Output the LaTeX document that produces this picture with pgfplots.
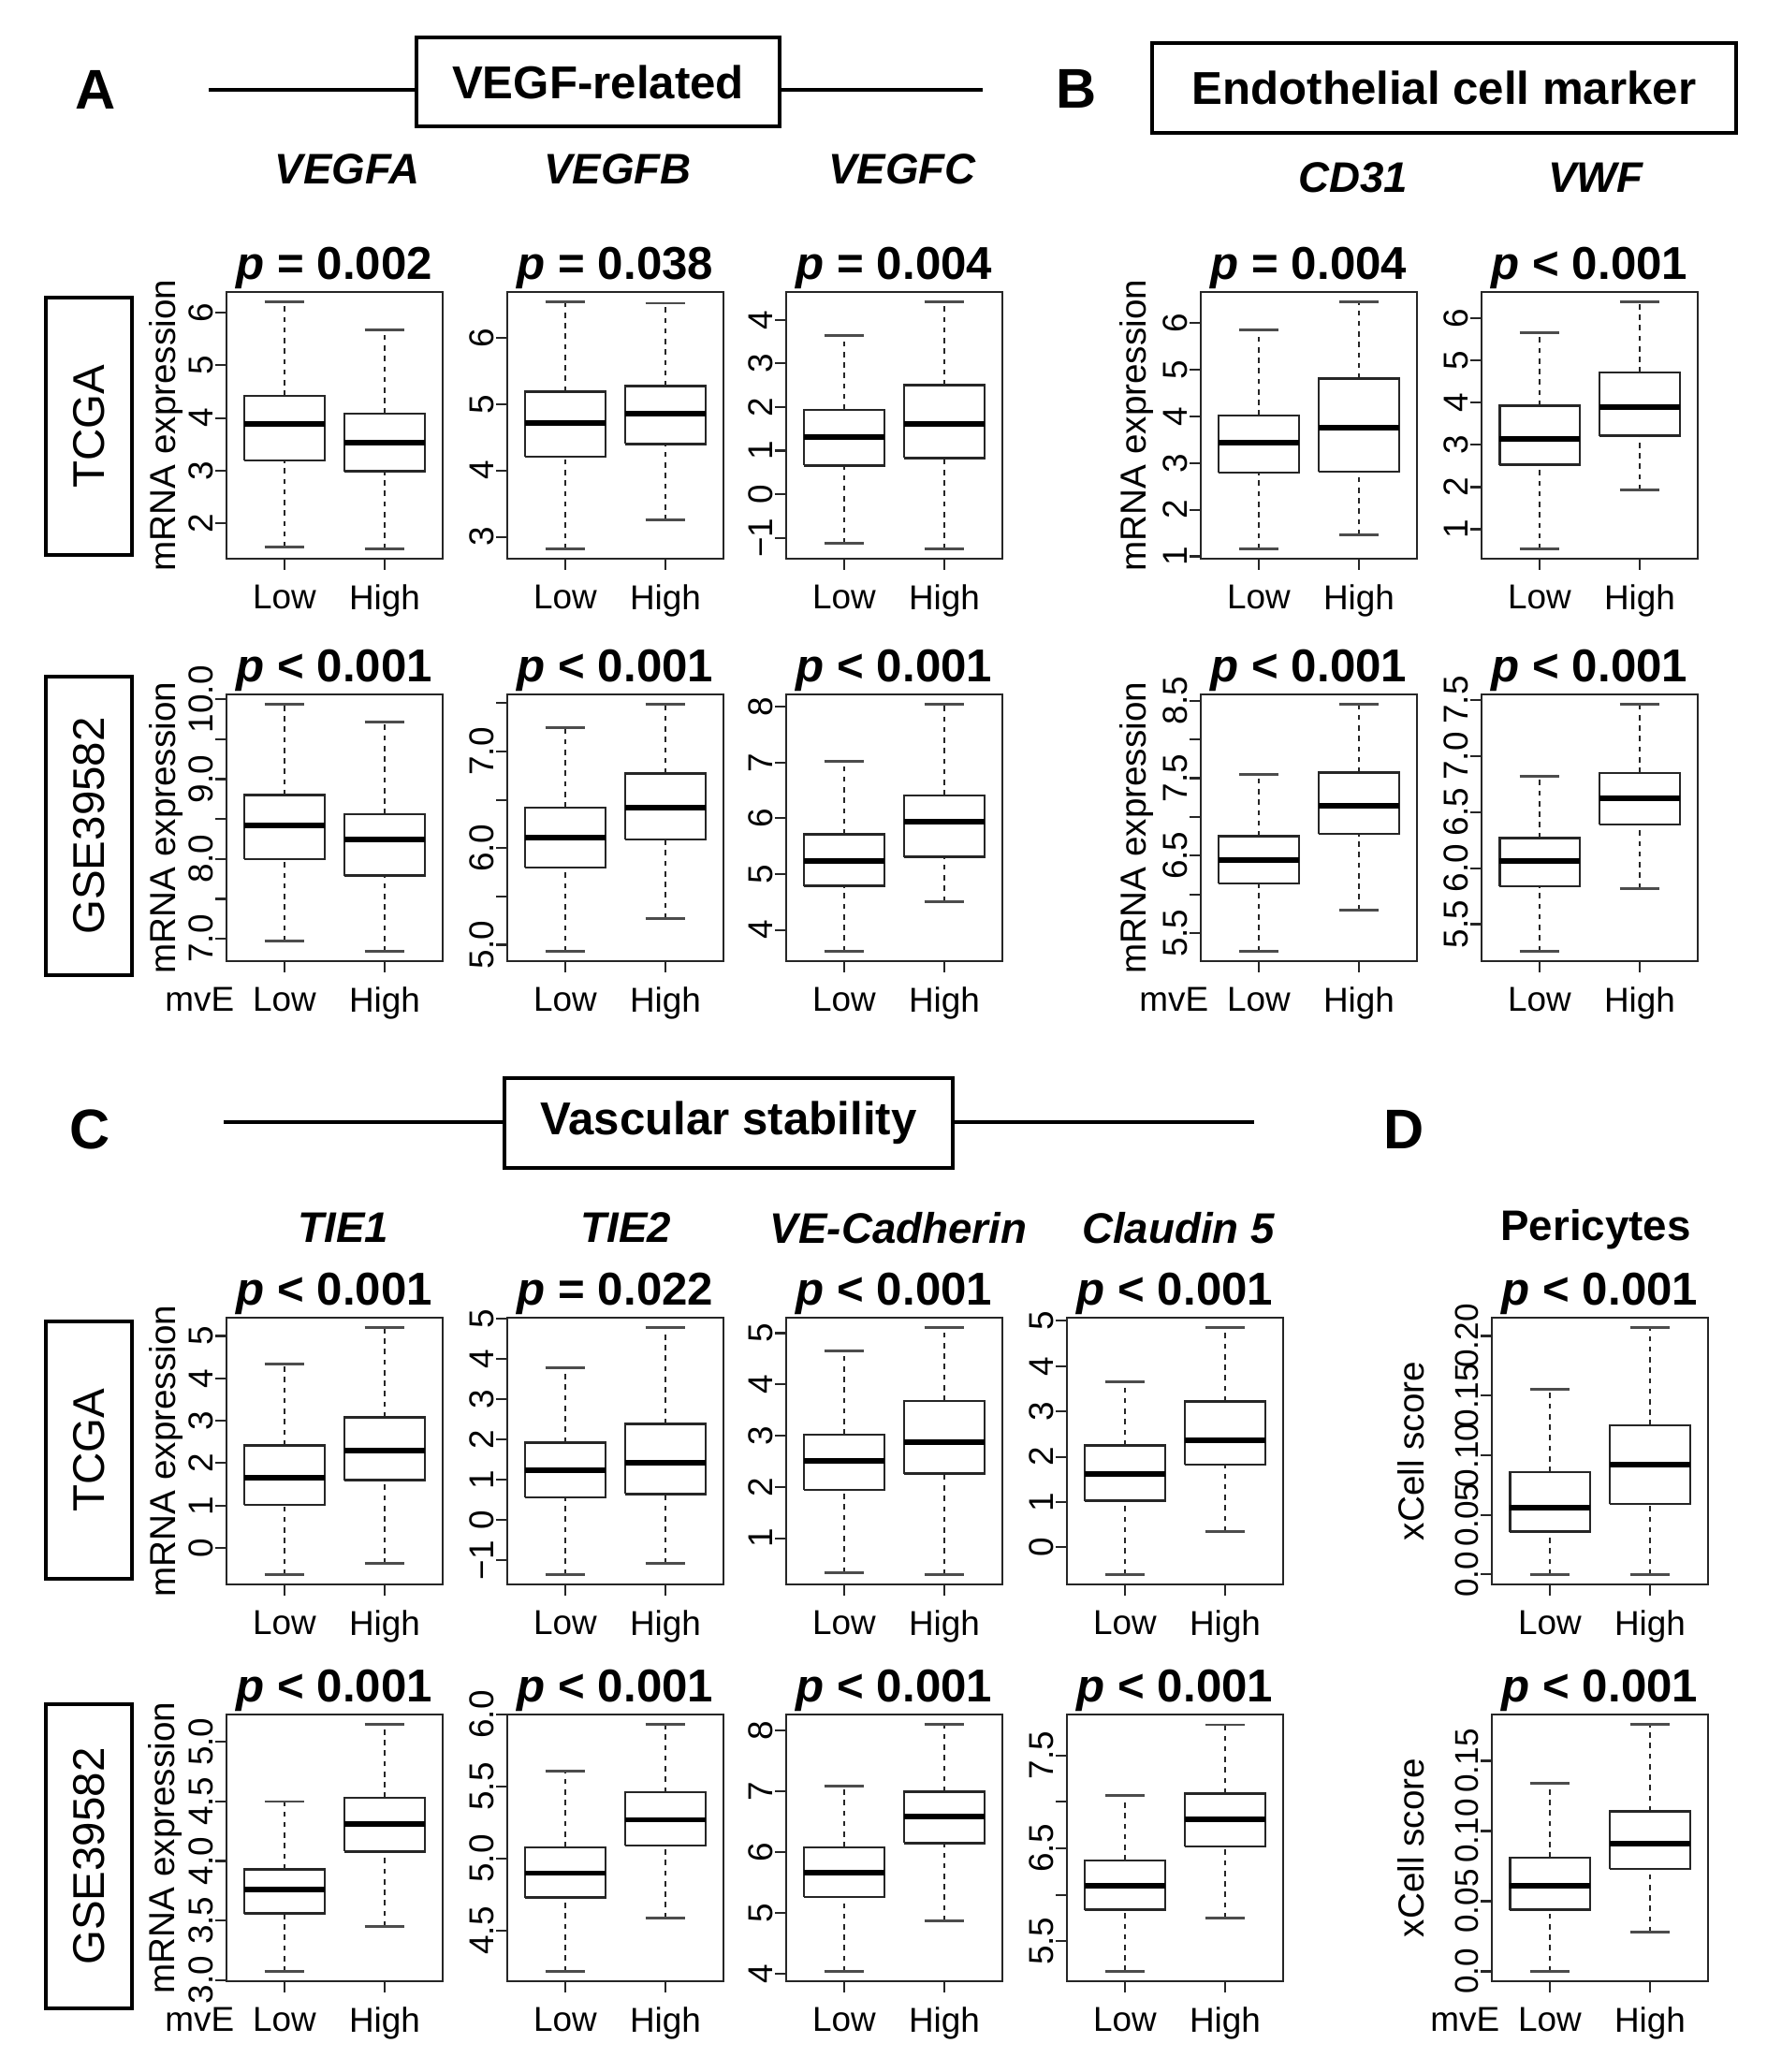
\documentclass[border=0pt]{standalone}
\usepackage{fontspec}
\setmainfont{Liberation Sans}
\usepackage{pgfplots}
\pgfplotsset{compat=1.18}

\newcommand\fs[1]{\fontsize{#1}{#1}\selectfont}
\pgfplotsset{
  bxs/.style={black!85, line width=0.7pt, mark=none, forget plot},
  mds/.style={black, line width=1.7pt, mark=none, forget plot},
  whs/.style={black!85, line width=0.5pt, dash pattern=on 1.6pt off 1.6pt, mark=none, forget plot},
  cps/.style={black!70, line width=0.8pt, mark=none, forget plot},
  ylx/.style={every axis y label/.style={at={(rel axis cs:0,0.5)}, xshift=#1, rotate=90, anchor=center, font=\fs{11}}},
  panel/.style={
    width=2.31cm, height=2.85cm, scale only axis, anchor=north west,
    xmin=0.42, xmax=2.58, xtick={1,2}, xticklabels={Low,High},
    tick pos=left, tick align=outside, major tick length=0.12cm,
    axis line style={black!85, line width=0.6pt},
    every tick/.style={black!85, line width=0.6pt},
    ticklabel style={font=\fs{10.5}},
    yticklabel style={rotate=90, anchor=south, inner sep=0.5pt},
    xticklabel style={inner sep=1pt, yshift=-0.12cm},
    every axis title/.style={at={(0.5,1)}, anchor=base, yshift=0.14cm, font=\bfseries\fs{14}},
    ylx=-0.65cm,
    clip=false,
  },
  mve/.style={xticklabels={\llap{mvE\hspace{0.2cm}}Low,High}},
}
% args: lower whisker, lower quartile, median, upper quartile, upper whisker
\newcommand\bL[5]{%
\addplot[whs] coordinates {(1,#1) (1,#2)};
\addplot[whs] coordinates {(1,#4) (1,#5)};
\addplot[cps] coordinates {(0.8,#1) (1.2,#1)};
\addplot[cps] coordinates {(0.8,#5) (1.2,#5)};
\addplot[bxs] coordinates {(0.6,#2) (1.4,#2) (1.4,#4) (0.6,#4) (0.6,#2)};
\addplot[mds] coordinates {(0.6,#3) (1.4,#3)};}
\newcommand\bH[5]{%
\addplot[whs] coordinates {(2,#1) (2,#2)};
\addplot[whs] coordinates {(2,#4) (2,#5)};
\addplot[cps] coordinates {(1.8,#1) (2.2,#1)};
\addplot[cps] coordinates {(1.8,#5) (2.2,#5)};
\addplot[bxs] coordinates {(1.6,#2) (2.4,#2) (2.4,#4) (1.6,#4) (1.6,#2)};
\addplot[mds] coordinates {(1.6,#3) (2.4,#3)};}

\begin{document}
\begin{tikzpicture}
\useasboundingbox (0,0) rectangle (18.88,-22.14);

% ---------- headers ----------
\node[font=\bfseries\fs{17}] at (1.02,-0.96) {A};
\draw[line width=0.9pt] (2.23,-0.96) -- (4.45,-0.96) (8.33,-0.96) -- (10.50,-0.96);
\draw[line width=0.9pt] (4.45,-0.40) rectangle (8.33,-1.35);
\node[font=\bfseries\fs{14}] at (6.39,-0.875) {VEGF-related};
\node[font=\bfseries\fs{17}] at (11.50,-0.95) {B};
\draw[line width=0.9pt] (12.31,-0.46) rectangle (18.55,-1.42);
\node[font=\bfseries\fs{14}] at (15.43,-0.94) {Endothelial cell marker};
\node[font=\bfseries\itshape\fs{13}] at (3.71,-1.81) {VEGFA};
\node[font=\bfseries\itshape\fs{13}] at (6.60,-1.81) {VEGFB};
\node[font=\bfseries\itshape\fs{13}] at (9.64,-1.81) {VEGFC};
\node[font=\bfseries\itshape\fs{13}] at (14.46,-1.90) {CD31};
\node[font=\bfseries\itshape\fs{13}] at (17.05,-1.90) {VWF};

\node[font=\bfseries\fs{17}] at (0.96,-12.07) {C};
\draw[line width=0.9pt] (2.39,-11.99) -- (5.39,-11.99) (10.18,-11.99) -- (13.40,-11.99);
\draw[line width=0.9pt] (5.39,-11.52) rectangle (10.18,-12.48);
\node[font=\bfseries\fs{14}] at (7.785,-12.0) {Vascular stability};
\node[font=\bfseries\fs{17}] at (15.00,-12.07) {D};
\node[font=\bfseries\itshape\fs{13}] at (3.67,-13.12) {TIE1};
\node[font=\bfseries\itshape\fs{13}] at (6.69,-13.12) {TIE2};
\node[font=\bfseries\itshape\fs{13}] at (9.60,-13.12) {VE-Cadherin};
\node[font=\bfseries\itshape\fs{13}] at (12.59,-13.12) {Claudin 5};
\node[font=\bfseries\fs{13}] at (17.05,-13.14) {Pericytes};

% ---------- row labels ----------
\draw[line width=0.9pt] (0.49,-3.18) rectangle (1.41,-5.93);
\node[rotate=90, font=\fs{13.5}] at (0.95,-4.555) {TCGA};
\draw[line width=0.9pt] (0.49,-7.23) rectangle (1.41,-10.42);
\node[rotate=90, font=\fs{13.5}] at (0.95,-8.825) {GSE39582};
\draw[line width=0.9pt] (0.49,-14.12) rectangle (1.41,-16.87);
\node[rotate=90, font=\fs{13.5}] at (0.95,-15.495) {TCGA};
\draw[line width=0.9pt] (0.49,-18.21) rectangle (1.41,-21.46);
\node[rotate=90, font=\fs{13.5}] at (0.95,-19.835) {GSE39582};

% ================= Row 1 (TCGA, A/B) =================
\begin{axis}[panel, at={(2.42cm,-3.12cm)}, ymin=1.33, ymax=6.39, ytick={2,3,4,5,6}, yticklabels={2,3,4,5,6},
  title={\textit{p} = 0.002}, ylabel={mRNA expression}]
\bL{1.55}{3.19}{3.89}{4.42}{6.21}
\bH{1.52}{2.99}{3.53}{4.08}{5.67}
\end{axis}
\begin{axis}[panel, at={(5.42cm,-3.12cm)}, ymin=2.67, ymax=6.69, ytick={3,4,5,6}, yticklabels={3,4,5,6},
  title={\textit{p} = 0.038}]
\bL{2.82}{4.21}{4.71}{5.19}{6.54}
\bH{3.25}{4.40}{4.86}{5.27}{6.52}
\end{axis}
\begin{axis}[panel, at={(8.40cm,-3.12cm)}, ymin=-1.48, ymax=4.64, ytick={-1,0,1,2,3,4}, yticklabels={−1,0,1,2,3,4},
  title={\textit{p} = 0.004}]
\bL{-1.13}{0.66}{1.31}{1.94}{3.65}
\bH{-1.25}{0.83}{1.61}{2.50}{4.41}
\end{axis}
\begin{axis}[panel, at={(12.83cm,-3.12cm)}, ymin=0.95, ymax=6.67, ytick={1,2,3,4,5,6}, yticklabels={1,2,3,4,5,6},
  title={\textit{p} = 0.004}, ylabel={mRNA expression}, ylx=-0.69cm]
\bL{1.16}{2.80}{3.43}{4.02}{5.85}
\bH{1.46}{2.82}{3.76}{4.81}{6.46}
\end{axis}
\begin{axis}[panel, at={(15.83cm,-3.12cm)}, ymin=0.30, ymax=6.63, ytick={1,2,3,4,5,6}, yticklabels={1,2,3,4,5,6},
  title={\textit{p} < 0.001}]
\bL{0.53}{2.53}{3.14}{3.93}{5.66}
\bH{1.93}{3.22}{3.90}{4.72}{6.40}
\end{axis}

% ================= Row 2 (GSE, A/B) =================
\begin{axis}[panel, mve, at={(2.42cm,-7.42cm)}, ymin=6.72, ymax=10.06, ytick={7,7.5,8,8.5,9,9.5,10}, yticklabels={7.0,,8.0,,9.0,,10.0},
  title={\textit{p} < 0.001}, ylabel={mRNA expression}]
\bL{6.97}{8.00}{8.42}{8.80}{9.94}
\bH{6.84}{7.79}{8.24}{8.56}{9.71}
\end{axis}
\begin{axis}[panel, at={(5.42cm,-7.42cm)}, ymin=4.83, ymax=7.59, ytick={5,5.5,6,6.5,7,7.5}, yticklabels={5.0,,6.0,,7.0,},
  title={\textit{p} < 0.001}]
\bL{4.93}{5.80}{6.11}{6.42}{7.25}
\bH{5.27}{6.09}{6.42}{6.77}{7.49}
\end{axis}
\begin{axis}[panel, at={(8.40cm,-7.42cm)}, ymin=3.44, ymax=8.22, ytick={4,5,6,7,8}, yticklabels={4,5,6,7,8},
  title={\textit{p} < 0.001}]
\bL{3.62}{4.79}{5.24}{5.71}{7.02}
\bH{4.51}{5.31}{5.94}{6.41}{8.04}
\end{axis}
\begin{axis}[panel, mve, at={(12.83cm,-7.42cm)}, ymin=5.14, ymax=8.58, ytick={5.5,6,6.5,7,7.5,8,8.5}, yticklabels={5.5,,6.5,,7.5,,8.5},
  title={\textit{p} < 0.001}, ylabel={mRNA expression}, ylx=-0.69cm]
\bL{5.27}{6.14}{6.44}{6.75}{7.55}
\bH{5.80}{6.78}{7.14}{7.57}{8.45}
\end{axis}
\begin{axis}[panel, at={(15.83cm,-7.42cm)}, ymin=5.17, ymax=7.55, ytick={5.5,6,6.5,7,7.5}, yticklabels={5.5,6.0,6.5,7.0,7.5},
  title={\textit{p} < 0.001}]
\bL{5.26}{5.84}{6.06}{6.27}{6.82}
\bH{5.82}{6.39}{6.62}{6.85}{7.46}
\end{axis}

% ================= Row 3 (TCGA, C/D) =================
\begin{axis}[panel, at={(2.42cm,-14.08cm)}, ymin=-0.86, ymax=5.43, ytick={0,1,2,3,4,5}, yticklabels={0,1,2,3,4,5},
  title={\textit{p} < 0.001}, ylabel={mRNA expression}]
\bL{-0.63}{1.02}{1.65}{2.42}{4.33}
\bH{-0.37}{1.60}{2.30}{3.08}{5.20}
\end{axis}
\begin{axis}[panel, at={(5.42cm,-14.08cm)}, ymin=-1.60, ymax=5.03, ytick={-1,0,1,2,3,4,5}, yticklabels={−1,0,1,2,3,4,5},
  title={\textit{p} = 0.022}]
\bL{-1.35}{0.57}{1.24}{1.93}{3.78}
\bH{-1.08}{0.65}{1.42}{2.39}{4.78}
\end{axis}
\begin{axis}[panel, at={(8.40cm,-14.08cm)}, ymin=0.10, ymax=5.30, ytick={1,2,3,4,5}, yticklabels={1,2,3,4,5},
  title={\textit{p} < 0.001}]
\bL{0.33}{1.94}{2.50}{3.02}{4.66}
\bH{0.29}{2.26}{2.87}{3.68}{5.11}
\end{axis}
\begin{axis}[panel, at={(11.40cm,-14.08cm)}, ymin=-0.82, ymax=5.07, ytick={0,1,2,3,4,5}, yticklabels={0,1,2,3,4,5},
  title={\textit{p} < 0.001}]
\bL{-0.60}{1.03}{1.62}{2.25}{3.65}
\bH{0.35}{1.83}{2.37}{3.22}{4.85}
\end{axis}
\begin{axis}[panel, at={(15.94cm,-14.08cm)}, ymin=-0.0083, ymax=0.2153, ytick={0,0.05,0.1,0.15,0.2}, yticklabels={0.0,0.05,0.10,0.15,0.20},
  title={\textit{p} < 0.001}, ylabel={xCell score}, ylx=-0.86cm, yticklabel style={font=\fs{10}}]
\bL{0.0}{0.036}{0.056}{0.086}{0.1556}
\bH{0.0}{0.059}{0.092}{0.125}{0.207}
\end{axis}

% ================= Row 4 (GSE, C/D) =================
\begin{axis}[panel, mve, at={(2.42cm,-18.32cm)}, ymin=2.99, ymax=5.23, ytick={3,3.5,4,4.5,5}, yticklabels={3.0,3.5,4.0,4.5,5.0},
  title={\textit{p} < 0.001}, ylabel={mRNA expression}]
\bL{3.07}{3.56}{3.76}{3.93}{4.50}
\bH{3.45}{4.08}{4.31}{4.53}{5.15}
\end{axis}
\begin{axis}[panel, at={(5.42cm,-18.32cm)}, ymin=4.15, ymax=6.00, ytick={4.5,5,5.5,6}, yticklabels={4.5,5.0,5.5,6.0},
  title={\textit{p} < 0.001}]
\bL{4.22}{4.73}{4.90}{5.08}{5.61}
\bH{4.59}{5.09}{5.27}{5.46}{5.93}
\end{axis}
\begin{axis}[panel, at={(8.40cm,-18.32cm)}, ymin=3.88, ymax=8.26, ytick={4,5,6,7,8}, yticklabels={4,5,6,7,8},
  title={\textit{p} < 0.001}]
\bL{4.04}{5.26}{5.66}{6.08}{7.08}
\bH{4.87}{6.15}{6.58}{6.99}{8.10}
\end{axis}
\begin{axis}[panel, at={(11.40cm,-18.32cm)}, ymin=5.07, ymax=7.94, ytick={5.5,6,6.5,7,7.5}, yticklabels={5.5,,6.5,,7.5},
  title={\textit{p} < 0.001}]
\bL{5.18}{5.84}{6.10}{6.37}{7.07}
\bH{5.75}{6.52}{6.81}{7.09}{7.83}
\end{axis}
\begin{axis}[panel, mve, at={(15.94cm,-18.32cm)}, ymin=-0.007, ymax=0.183, ytick={0,0.05,0.1,0.15}, yticklabels={0.0,0.05,0.10,0.15},
  title={\textit{p} < 0.001}, ylabel={xCell score}, ylx=-0.86cm, yticklabel style={font=\fs{10}}]
\bL{0.0}{0.044}{0.061}{0.081}{0.134}
\bH{0.028}{0.073}{0.091}{0.114}{0.176}
\end{axis}
\end{tikzpicture}
\end{document}
